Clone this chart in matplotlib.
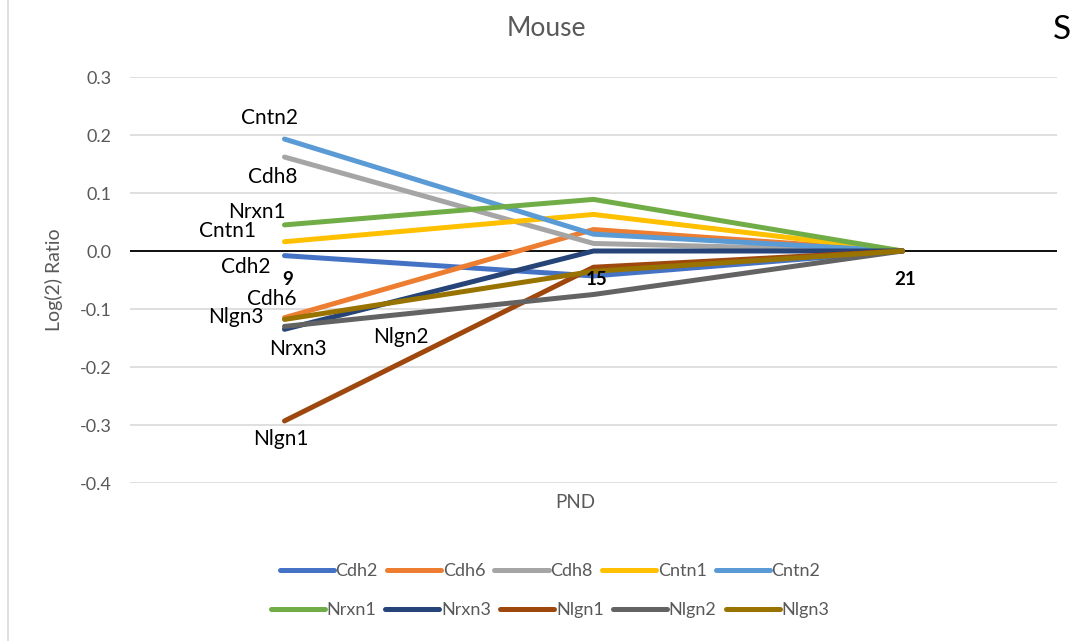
import numpy as np
import matplotlib.pyplot as plt
from matplotlib.lines import Line2D

plt.rcParams['font.family'] = ['Lato', 'DejaVu Sans']

# log2 ratios per gene at PND 9, 15, 21
pnd = ['9', '15', '21']
genes = ['Cdh2', 'Cdh6', 'Cdh8', 'Cntn1', 'Cntn2',
         'Nrxn1', 'Nrxn3', 'Nlgn1', 'Nlgn2', 'Nlgn3']
cdh2 = [-0.008, -0.043, 0.0]
cdh6 = [-0.115, 0.037, 0.0]
cdh8 = [0.162, 0.013, 0.0]
cntn1 = [0.016, 0.063, 0.0]
cntn2 = [0.193, 0.029, 0.0]
nrxn1 = [0.045, 0.089, 0.0]
nrxn3 = [-0.135, 0.0, 0.0]
nlgn1 = [-0.293, -0.028, 0.0]
nlgn2 = [-0.130, -0.075, 0.0]
nlgn3 = [-0.118, -0.035, 0.0]
series = [cdh2, cdh6, cdh8, cntn1, cntn2, nrxn1, nrxn3, nlgn1, nlgn2, nlgn3]
yticks = [-0.4, -0.3, -0.2, -0.1, 0.0, 0.1, 0.2, 0.3]

colors = ['#4472C4', '#ED7D31', '#A5A5A5', '#FFC000', '#5B9BD5',
          '#70AD47', '#264478', '#9E480E', '#636363', '#997300']

# where each gene name is written next to the PND 9 points
label_pos = {
    'Cntn2': (-0.047, 0.229), 'Cdh8': (-0.037, 0.127), 'Nrxn1': (-0.089, 0.067),
    'Cntn1': (-0.186, 0.034), 'Cdh2': (-0.125, -0.028), 'Cdh6': (-0.040, -0.083),
    'Nlgn3': (-0.157, -0.114), 'Nrxn3': (0.044, -0.169), 'Nlgn2': (0.377, -0.149),
    'Nlgn1': (-0.011, -0.324),
}

fig = plt.figure(figsize=(10.76, 6.41), dpi=100)
ax = fig.add_axes([130 / 1076, 1 - 483 / 641, 927 / 1076, 406 / 641])

x = np.arange(len(pnd))
for g, vals, c in zip(genes, series, colors):
    ax.plot(x, vals, color=c, lw=3.6, solid_capstyle='round', zorder=3, label=g)

ax.set_xlim(-0.5, 2.5)
ax.set_ylim(-0.4, 0.3)
ax.set_yticks(yticks)
ax.set_yticklabels(['%.1f' % v for v in yticks], color='#595959', fontsize=13)
ax.tick_params(axis='y', length=0, pad=13)
ax.set_xticks([])
ax.grid(axis='y', color='#D9D9D9', lw=1.2)
for s in ax.spines.values():
    s.set_visible(False)
ax.axhline(0, color='black', lw=1.3, zorder=2)

# category labels sit just under the zero line
for xi, lab in zip(x, pnd):
    ax.text(xi + 0.01, -0.049, lab, ha='center', va='center',
            fontsize=13.5, fontweight='bold', color='black')

for g in genes:
    px, py = label_pos[g]
    ax.text(px, py, g, ha='center', va='center', fontsize=15, color='black')

ax.set_ylabel('Log(2) Ratio', color='#595959', fontsize=14)
ax.yaxis.set_label_coords(-0.072, 0.5)

fig.text(575 / 1076, 1 - 503 / 641, 'PND', ha='center', va='center',
         color='#595959', fontsize=13.5)
fig.text(546 / 1076, 1 - 28 / 641, 'Mouse', ha='center', va='center',
         color='#595959', fontsize=19)
fig.text(1062 / 1076, 1 - 30 / 641, 'S', ha='center', va='center',
         color='black', fontsize=24)

handles = [Line2D([], [], color=c, lw=3.6, solid_capstyle='round') for c in colors]
legend_kw = dict(loc='center', ncol=5, frameon=False, fontsize=13,
                 handlelength=3.0, handletextpad=0.1, columnspacing=0.5,
                 labelcolor='#595959')
fig.legend(handles[:5], genes[:5], bbox_to_anchor=(550 / 1076, 1 - 571 / 641),
           **legend_kw)
fig.legend(handles[5:], genes[5:], bbox_to_anchor=(550 / 1076, 1 - 610 / 641),
           **legend_kw)

# thin frame on the left edge
fig.add_artist(Line2D([8 / 1076, 8 / 1076], [0, 1], color='#D9D9D9', lw=1.2))

fig.savefig('out.png', dpi=100)
